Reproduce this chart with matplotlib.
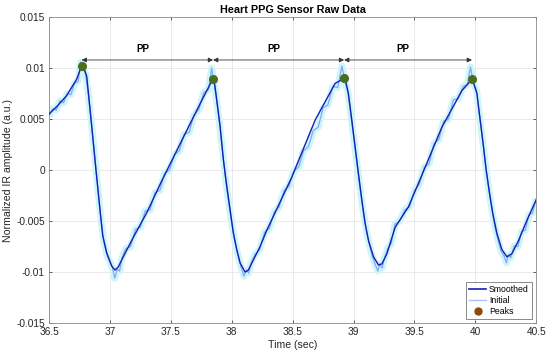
import matplotlib
matplotlib.use("Agg")
import matplotlib.pyplot as plt
from matplotlib.lines import Line2D

plt.rcParams['font.family'] = ['Liberation Sans', 'DejaVu Sans']

# ---- data ----
t_smooth = [36.50, 36.57, 36.645, 36.727, 36.768, 36.79, 36.810, 36.837, 36.864, 36.886,
            36.913, 36.941, 36.974, 37.015, 37.042, 37.069, 37.110, 37.192, 37.302, 37.42,
            37.590, 37.740, 37.822, 37.847, 37.862, 37.877, 37.905, 37.932, 37.960, 37.987,
            38.014, 38.042, 38.069, 38.110, 38.137, 38.178, 38.233, 38.288, 38.493, 38.685,
            38.849, 38.923, 38.94, 38.958, 38.986, 39.013, 39.040, 39.068, 39.095, 39.123,
            39.164, 39.205, 39.233, 39.274, 39.342, 39.451, 39.561, 39.725, 39.890, 39.972,
            39.99, 40.013, 40.040, 40.067, 40.089, 40.117, 40.144, 40.177, 40.218, 40.259,
            40.300, 40.355, 40.424, 40.5]
v_smooth = [0.0055, 0.0063, 0.0073, 0.0089, 0.0102, 0.0099, 0.0092, 0.0060, 0.0027, 0.0000,
            -0.0032, -0.0064, -0.0081, -0.0094, -0.0098, -0.0095, -0.0085, -0.0066, -0.0042, -0.0012,
            0.0029, 0.0065, 0.0084, 0.0089, 0.0083, 0.0069, 0.0043, 0.0010, -0.0016, -0.0039,
            -0.0062, -0.0078, -0.0091, -0.0100, -0.0098, -0.0088, -0.0075, -0.0059, -0.0007, 0.0049,
            0.0085, 0.0090, 0.0085, 0.0075, 0.0049, 0.0023, -0.0003, -0.0029, -0.0052, -0.0069,
            -0.0085, -0.0093, -0.0092, -0.0082, -0.0056, -0.0036, -0.0005, 0.0042, 0.0078, 0.0089,
            0.0084, 0.0075, 0.0049, 0.0023, 0.0000, -0.0023, -0.0043, -0.0062, -0.0078, -0.0085,
            -0.0082, -0.0069, -0.0049, -0.0029]

t_initial = [36.50, 36.53, 36.56, 36.59, 36.62, 36.65, 36.68, 36.71, 36.74, 36.76, 36.775,
             36.80, 36.825, 36.85, 36.875, 36.90, 36.925, 36.95, 36.975, 37.00, 37.02, 37.04, 37.06, 37.08, 37.10,
             37.13, 37.17, 37.21, 37.25, 37.29, 37.33, 37.37, 37.41, 37.45, 37.49, 37.53, 37.57, 37.61,
             37.65, 37.69, 37.73, 37.77, 37.81, 37.835, 37.855,
             37.875, 37.90, 37.925, 37.95, 37.975, 38.00, 38.025, 38.05, 38.075, 38.10, 38.12, 38.14, 38.16,
             38.19, 38.23, 38.27, 38.31, 38.35, 38.39, 38.43, 38.47, 38.51, 38.55, 38.59, 38.63, 38.67,
             38.71, 38.75, 38.79, 38.83, 38.87, 38.905, 38.93,
             38.955, 38.98, 39.005, 39.03, 39.055, 39.08, 39.105, 39.13, 39.155, 39.18, 39.20, 39.215, 39.235, 39.255,
             39.28, 39.31, 39.34, 39.38, 39.42, 39.46, 39.50, 39.54, 39.58, 39.62, 39.66, 39.70, 39.74,
             39.78, 39.82, 39.86, 39.90, 39.935, 39.96, 39.985,
             40.01, 40.035, 40.06, 40.085, 40.11, 40.135, 40.16, 40.185, 40.21, 40.235, 40.255, 40.27, 40.29,
             40.32, 40.35, 40.38, 40.41, 40.44, 40.47, 40.50]
v_initial = [0.0053, 0.0060, 0.0059, 0.0068, 0.0066, 0.0075, 0.0074, 0.0085, 0.0087, 0.0106, 0.0100,
             0.0095, 0.0073, 0.0045, 0.0015, -0.0016, -0.0046, -0.0070, -0.0083, -0.0090, -0.0095, -0.0106, -0.0097, -0.0099, -0.0086,
             -0.0077, -0.0075, -0.0058, -0.0056, -0.0040, -0.0039, -0.0022, -0.0020, -0.0003, 0.0000, 0.0015, 0.0019, 0.0035,
             0.0037, 0.0054, 0.0059, 0.0076, 0.0079, 0.0100, 0.0086,
             0.0070, 0.0046, 0.0018, -0.0009, -0.0031, -0.0052, -0.0069, -0.0083, -0.0094, -0.0104, -0.0098, -0.0101, -0.0091,
             -0.0083, -0.0078, -0.0061, -0.0057, -0.0041, -0.0036, -0.0020, -0.0016, -0.0001, 0.0003, 0.0019, 0.0023, 0.0039,
             0.0042, 0.0061, 0.0064, 0.0082, 0.0081, 0.0102, 0.0087,
             0.0076, 0.0052, 0.0029, 0.0005, -0.0019, -0.0041, -0.0059, -0.0073, -0.0085, -0.0093, -0.0099, -0.0092, -0.0096, -0.0086,
             -0.0077, -0.0072, -0.0053, -0.0050, -0.0039, -0.0036, -0.0020, -0.0014, 0.0003, 0.0006, 0.0026, 0.0030, 0.0048,
             0.0050, 0.0069, 0.0070, 0.0082, 0.0084, 0.0101, 0.0085,
             0.0078, 0.0053, 0.0029, 0.0004, -0.0018, -0.0038, -0.0055, -0.0068, -0.0079, -0.0084, -0.0091, -0.0083, -0.0086,
             -0.0074, -0.0075, -0.0060, -0.0059, -0.0044, -0.0042, -0.0028]

t_peaks = [36.768, 37.847, 38.923, 39.972]
v_peaks = [0.0102, 0.0089, 0.0090, 0.0089]

pp_level = 0.0108
pp_label = "PP"

xticks = [36.5, 37, 37.5, 38, 38.5, 39, 39.5, 40, 40.5]
xticklabels = ["36.5", "37", "37.5", "38", "38.5", "39", "39.5", "40", "40.5"]
yticks = [-0.015, -0.01, -0.005, 0, 0.005, 0.01, 0.015]
yticklabels = ["-0.015", "-0.01", "-0.005", "0", "0.005", "0.01", "0.015"]

# ---- figure ----
fig = plt.figure(figsize=(5.5, 3.57), dpi=100)
ax = fig.add_axes([0.089, 0.095, 0.886, 0.857])

txt = '#262626'
# halo + raw signal
ax.plot(t_initial, v_initial, color='#cdf6fa', lw=5, solid_capstyle='butt', zorder=1)
ax.plot(t_initial, v_initial, color='#86a8f2', lw=0.9, zorder=2)
ax.plot(t_smooth, v_smooth, color='#1c1cb0', lw=1.0, zorder=3)
ax.plot(t_peaks, v_peaks, 'o', color='#4a6e1c', ms=5.5, zorder=4)

# PP arrows
for i in range(len(t_peaks) - 1):
    ax.annotate('', xy=(t_peaks[i + 1], pp_level), xytext=(t_peaks[i], pp_level),
                arrowprops=dict(arrowstyle='<|-|>', color='#333333', lw=0.6,
                                mutation_scale=7, shrinkA=0, shrinkB=0), zorder=5)
    ax.text((t_peaks[i] + t_peaks[i + 1]) / 2 - 0.04, pp_level + 0.0006, pp_label,
            ha='center', va='bottom', fontsize=7, fontweight='bold', color='black')

ax.set_xlim(36.5, 40.5)
ax.set_ylim(-0.015, 0.015)
ax.set_xticks(xticks)
ax.set_xticklabels(xticklabels)
ax.set_yticks(yticks)
ax.set_yticklabels(yticklabels)
ax.grid(True, color='#e6e6e6', lw=0.6)
ax.set_axisbelow(True)
ax.tick_params(direction='in', length=2.5, width=0.5, colors=txt, labelsize=7.3,
               top=True, right=True, pad=3)
for s in ax.spines.values():
    s.set_color('#8c8c8c')
    s.set_linewidth(0.6)

ax.set_title('Heart PPG Sensor Raw Data', fontsize=7.8, fontweight='bold', color='black', pad=3)
ax.set_xlabel('Time (sec)', fontsize=7.6, color=txt, labelpad=2)
ax.set_ylabel('Normalized IR amplitude (a.u.)', fontsize=7.6, color=txt, labelpad=2)

handles = [Line2D([], [], color='#1c1cb0', lw=1.2),
           Line2D([], [], color='#a9c4ee', lw=1.0),
           Line2D([], [], marker='o', ls='none', color='#8a4b12', ms=5)]
leg = ax.legend(handles, ['Smoothed', 'Initial', 'Peaks'], loc='lower right',
                fontsize=6.3, frameon=True, fancybox=False, handlelength=2.0,
                handletextpad=0.3, borderpad=0.35, labelspacing=0.2,
                borderaxespad=0.5)
leg.get_frame().set_edgecolor('#555555')
leg.get_frame().set_linewidth(0.6)

fig.savefig('out.png', dpi=100)
